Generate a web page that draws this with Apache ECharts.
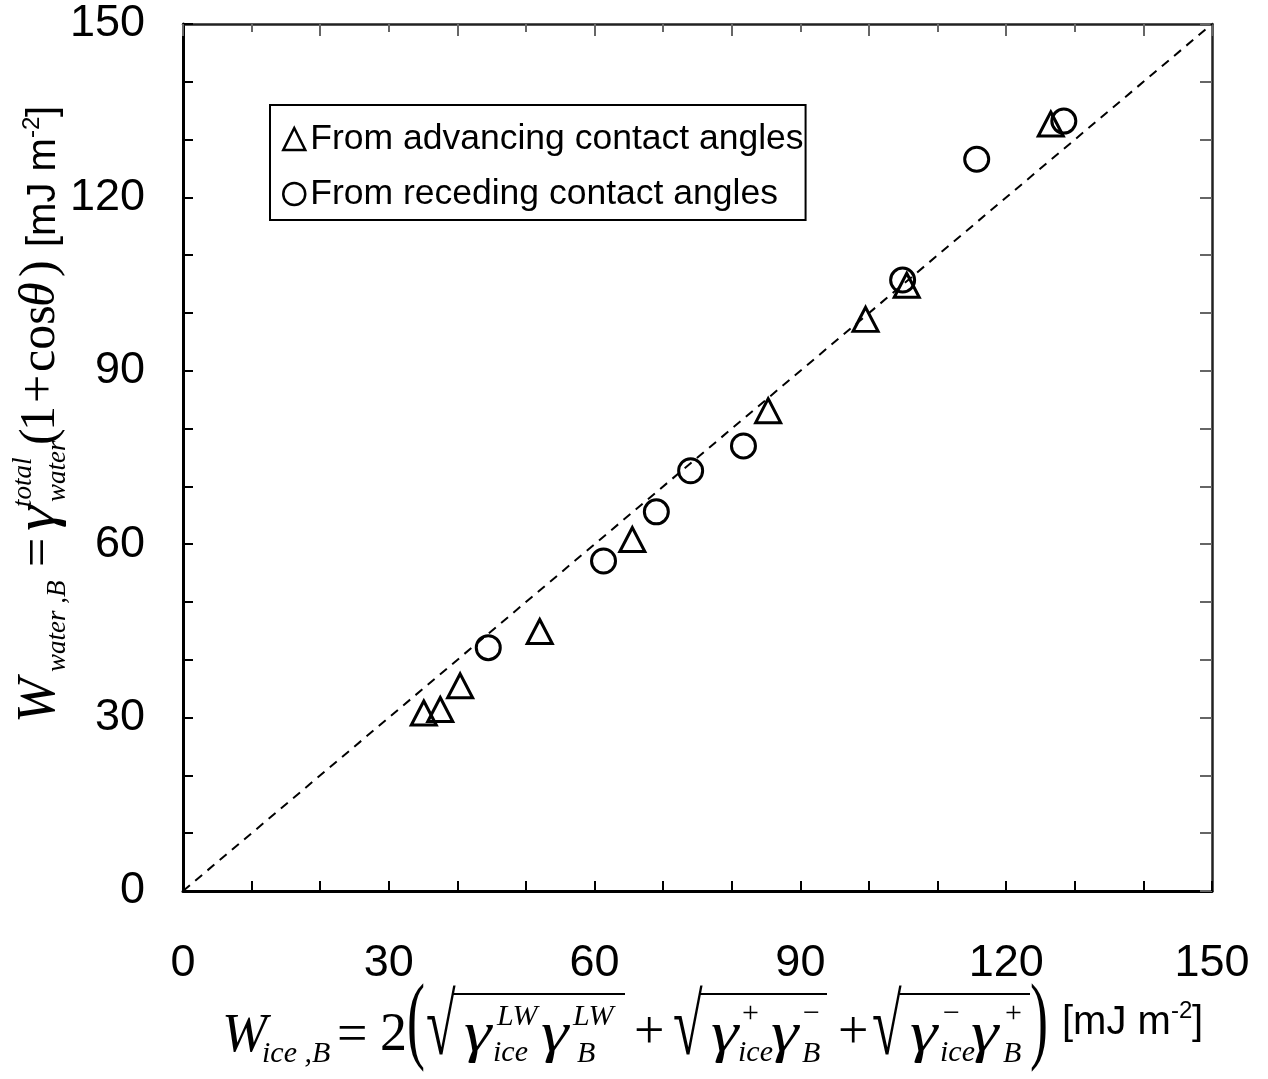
<!DOCTYPE html>
<html>
<head>
<meta charset="utf-8">
<script src="https://cdn.jsdelivr.net/npm/echarts@6.0.0/dist/echarts.min.js"></script>
<style>
  html, body { margin: 0; padding: 0; background: #fff; }
  #chart { width: 1268px; height: 1079px; }
</style>
</head>
<body>
<div id="chart"></div>
<script>
// ---- data ----
const advancingX = [35.1, 37.5, 40.4, 52.0, 65.5, 85.3, 99.5, 105.5, 126.5];
const advancingY = [30.8, 31.4, 35.5, 44.9, 60.8, 83.1, 98.9, 104.8, 132.7];
const recedingX  = [44.5, 61.3, 69.0, 74.0, 81.7, 104.9, 115.7, 128.4];
const recedingY  = [42.1, 57.1, 65.6, 72.7, 77.0, 105.7, 126.6, 133.2];
const refLineX = [0, 150];
const refLineY = [0, 150];
const xTickLabels = [0, 30, 60, 90, 120, 150];
const yTickLabels = [0, 30, 60, 90, 120, 150];
const seriesNames = ['From advancing contact angles', 'From receding contact angles'];

// ---- helpers ----
const SERIF = '"Liberation Serif", "Times New Roman", serif';
const SANS = '"Liberation Sans", Arial, sans-serif';
function txt(text, x, base, size, opt) {
  opt = opt || {};
  const fam = opt.sans ? SANS : SERIF;
  const font = (opt.italic ? 'italic ' : '') + size + 'px ' + fam;
  const k = opt.sans ? 0.35 : 0.34;
  const el = {
    type: 'text',
    silent: true,
    style: {
      text: text, x: 0, y: 0, font: font, fill: '#000',
      align: 'left', verticalAlign: 'middle',
      textAlign: 'left', textVerticalAlign: 'middle'
    },
    x: x,
    y: base - k * size
  };
  if (opt.scaleY) { el.scaleY = opt.scaleY; el.y = opt.cy; }
  if (opt.scaleX) { el.scaleX = opt.scaleX; }
  return el;
}
function bar(x1, x2, y) {
  return { type: 'line', silent: true, shape: { x1: x1, y1: y, x2: x2, y2: y },
           style: { stroke: '#000', lineWidth: 2 } };
}

// x-axis title pieces (formula)
const M = 54, S = 30, G = 58;
const gam = (x) => txt('\u03B3', x, 1055, G, { italic: true, scaleX: 1.2 });
const xTitle = [
  txt('W', 222, 1055, M, { italic: true }),
  txt('ice ,B', 262, 1064, S, { italic: true }),
  txt('=', 337, 1055, M),
  txt('2', 380, 1054, M),
  txt('(', 407, 0, M, { scaleY: 1.8, cy: 1025 }),
  // first radical
  txt('\u221A', 426, 0, M, { scaleY: 1.6, cy: 1031 }),
  bar(452, 625, 994),
  gam(464),
  txt('LW', 497, 1027, S, { italic: true }),
  txt('ice', 493, 1063, S, { italic: true }),
  gam(541),
  txt('LW', 573, 1027, S, { italic: true }),
  txt('B', 577, 1064, S, { italic: true }),
  txt('+', 634, 1052, M),
  // second radical
  txt('\u221A', 673, 0, M, { scaleY: 1.6, cy: 1031 }),
  bar(699, 827, 994),
  gam(711),
  txt('+', 742, 1024, S),
  txt('ice', 738, 1063, S, { italic: true }),
  gam(771),
  txt('\u2212', 803, 1024, S),
  txt('B', 802, 1064, S, { italic: true }),
  txt('+', 838, 1052, M),
  // third radical
  txt('\u221A', 872, 0, M, { scaleY: 1.6, cy: 1031 }),
  bar(898, 1030, 994),
  gam(910),
  txt('\u2212', 943, 1024, S),
  txt('ice', 940, 1063, S, { italic: true }),
  gam(971),
  txt('+', 1005, 1024, S),
  txt('B', 1003, 1064, S, { italic: true }),
  txt(')', 1030, 0, M, { scaleY: 1.8, cy: 1025 }),
  txt('[mJ m', 1062, 1037, 40, { sans: true }),
  txt('-2', 1171, 1020, 24, { sans: true }),
  txt(']', 1192, 1037, 40, { sans: true })
];

// y-axis title pieces, laid out horizontally then rotated
const YM = 52, YS = 27;
const yTitleChildren = [
  txt('W', 2, 0, YM + 2, { italic: true }),
  txt('water ,B', 53, 9, YS, { italic: true }),
  txt('=', 158, 0, YM),
  txt('\u03B3', 194, 0, YM + 4, { italic: true, scaleX: 1.15 }),
  txt('total', 218, -25, YS, { italic: true }),
  txt('water', 223, 9, YS, { italic: true }),
  txt('(', 280, 0, 50),
  txt('1', 294, 0, 50),
  txt('+', 322, 0, 50),
  txt('cos', 353, 0, 50),
  txt('\u03B8', 418, 0, 50, { italic: true }),
  txt(')', 448, 0, 50),
  txt('[mJ m', 478, 0, 40, { sans: true }),
  txt('-2', 587, -17, 24, { sans: true }),
  txt(']', 608, 0, 40, { sans: true })
];

const chart = echarts.init(document.getElementById('chart'), null, { renderer: 'canvas' });

const axisLabelStyle = { fontSize: 45, fontFamily: SANS, color: '#000' };

const option = {
  animation: false,
  backgroundColor: '#fff',
  grid: { left: 183, right: 56, top: 24, bottom: 188, containLabel: false },
  xAxis: [
    {
      type: 'value', position: 'bottom', min: 0, max: 150, interval: 10,
      axisLine: { show: true, onZero: false, lineStyle: { color: '#000', width: 3 } },
      axisTick: { show: true, inside: true, length: 10, lineStyle: { color: '#000', width: 2 } },
      axisLabel: Object.assign({ margin: 50,
        formatter: v => (xTickLabels.indexOf(v) >= 0 ? String(v) : '') }, axisLabelStyle),
      splitLine: { show: false }
    },
    {
      type: 'value', position: 'top', min: 0, max: 150, interval: 20,
      axisLine: { show: true, onZero: false, lineStyle: { color: '#222', width: 2.5 } },
      axisTick: { show: true, inside: true, length: 12, lineStyle: { color: '#666', width: 2 } },
      minorTick: { show: true, splitNumber: 2, length: 8, lineStyle: { color: '#666', width: 2 } },
      axisLabel: { show: false },
      splitLine: { show: false }
    }
  ],
  yAxis: [
    {
      type: 'value', position: 'left', min: 0, max: 150, interval: 10,
      axisLine: { show: true, onZero: false, lineStyle: { color: '#000', width: 3 } },
      axisTick: { show: true, inside: true, length: 10, lineStyle: { color: '#000', width: 2 } },
      axisLabel: Object.assign({ margin: 38,
        formatter: v => (yTickLabels.indexOf(v) >= 0 ? String(v) : '') }, axisLabelStyle),
      splitLine: { show: false }
    },
    {
      type: 'value', position: 'right', min: 0, max: 150, interval: 10,
      axisLine: { show: true, onZero: false, lineStyle: { color: '#222', width: 2.5 } },
      axisTick: { show: true, inside: true, length: 12, lineStyle: { color: '#666', width: 2 } },
      axisLabel: { show: false },
      splitLine: { show: false }
    }
  ],
  legend: {
    data: seriesNames,
    orient: 'vertical',
    left: 270, top: 105,
    padding: [16, 2, 8, 12],
    itemGap: 19,
    itemWidth: 22, itemHeight: 22,
    borderColor: '#000', borderWidth: 2,
    selectedMode: false,
    itemStyle: { opacity: 1, borderColor: '#000', borderWidth: 2.5 },
    textStyle: { fontSize: 35.5, fontFamily: SANS, color: '#000' }
  },
  series: [
    {
      name: 'reference', type: 'line', xAxisIndex: 0, yAxisIndex: 0,
      data: refLineX.map((x, i) => [x, refLineY[i]]),
      symbol: 'none', silent: true,
      lineStyle: { color: '#000', width: 2, type: [9, 7] }
    },
    {
      name: seriesNames[0], type: 'scatter', xAxisIndex: 0, yAxisIndex: 0,
      data: advancingX.map((x, i) => [x, advancingY[i]]),
      symbol: 'triangle', symbolSize: [25, 24],
      itemStyle: { color: 'rgba(255,255,255,0)', borderColor: '#000', borderWidth: 3, opacity: 1 }
    },
    {
      name: seriesNames[1], type: 'scatter', xAxisIndex: 0, yAxisIndex: 0,
      data: recedingX.map((x, i) => [x, recedingY[i]]),
      symbol: 'circle', symbolSize: 24,
      itemStyle: { color: 'rgba(255,255,255,0)', borderColor: '#000', borderWidth: 3, opacity: 1 }
    }
  ],
  graphic: [
    { type: 'group', silent: true, children: xTitle },
    { type: 'group', silent: true, x: 58, y: 725, rotation: Math.PI / 2, children: yTitleChildren }
  ]
};

chart.setOption(option);
</script>
</body>
</html>
